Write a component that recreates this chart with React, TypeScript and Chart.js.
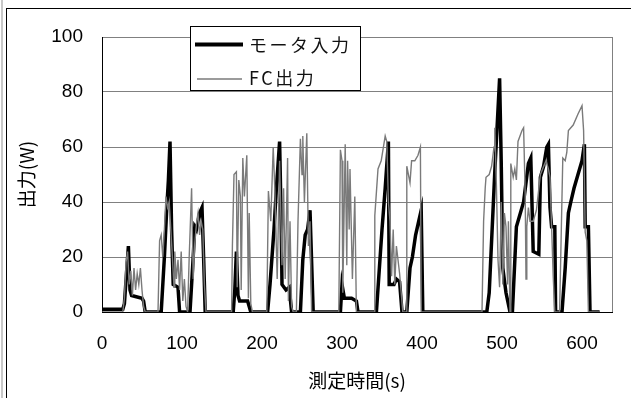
import React, { useEffect, useRef } from "react";
import { Chart, registerables } from "chart.js";

Chart.register(...registerables);

// ---- data ----
const motorTime = [
  0, 26, 28, 33, 35, 37, 50, 52, 54, 74, 78, 81, 83, 85, 87, 89, 95, 97, 110, 114, 116, 118, 122, 125, 127, 129,
  164, 166, 168, 170, 172, 182, 186, 207, 210, 215, 218, 222, 224, 225, 230, 234, 237, 248, 251, 254, 257, 260, 264,
  298, 300, 303, 312, 318, 320, 343, 350, 354, 358, 359, 365, 368, 372, 375, 381, 385, 388, 392, 399, 401,
  481, 484, 491, 497, 499, 501, 505, 510, 513, 518, 527, 533, 536, 537, 539, 546, 548, 552, 556, 558, 560, 562, 566, 567,
  575, 579, 583, 586, 590, 600, 603, 604, 608, 610, 622,
];
const motorPower = [
  1, 1, 3, 24, 8, 6, 5, 4, 0, 0, 20, 38, 48, 62, 30, 10, 9, 0, 0, 20, 31, 30, 36, 38, 20, 0,
  0, 8, 22, 6, 4, 4, 0, 0, 10, 30, 45, 62, 33, 10, 8, 9, 0, 0, 19, 28, 30, 37, 0,
  0, 10, 5, 5, 4, 0, 0, 30, 45, 62, 10, 10, 12, 11, 0, 0, 16, 20, 28, 37, 0,
  0, 7, 51, 85, 55, 16, 7, 0, 0, 31, 40, 54, 56, 45, 22, 21, 49, 53, 60, 61, 38, 31, 31, 0,
  0, 16, 36, 40, 45, 55, 61, 31, 31, 0, 0,
];
const fcTime = [
  0, 26, 28, 30, 32, 34, 36, 38, 40, 42, 44, 46, 48, 50, 52, 54,
  70, 72, 74, 76, 78, 80, 82, 84, 86, 88, 90, 91, 93, 95, 97, 99, 101, 103, 105, 107, 109, 112, 114, 116, 118, 120, 122, 124, 126, 128, 130,
  162, 163, 165, 168, 169, 171, 173, 174, 176, 178, 181, 183, 184, 186, 188,
  206, 208, 211, 214, 216, 219, 222, 225, 227, 229, 232, 233, 235, 237, 239,
  243, 245, 248, 250, 251, 253, 256, 258, 260, 262,
  296, 298, 300, 301, 304, 306, 307, 309, 310, 313, 316, 318,
  340, 341, 345, 349, 354, 356, 358, 360, 362, 364, 366, 368, 372, 376,
  380, 381, 385, 387, 391, 395, 398, 399,
  475, 477, 479, 480, 484, 487, 490, 491, 493, 495, 497, 499, 501, 503, 505, 507, 508, 510,
  511, 514, 516, 518, 520, 525, 527, 529, 530, 531, 533, 535, 539, 543, 548, 555, 558, 560, 562, 564, 566,
  572, 576, 579, 581, 583, 589, 595, 600, 602, 604, 606, 608, 622,
];
const fcPower = [
  0, 0, 5, 18, 22, 10, 15, 6, 16, 8, 14, 10, 16, 8, 2, 0,
  0, 26, 28, 20, 30, 42, 38, 40, 30, 20, 9, 22, 12, 19, 8, 22, 4, 12, 2, 0, 20, 45, 12, 25, 32, 36, 28, 33, 30, 10, 0,
  0, 24, 50, 51, 9, 48, 42, 8, 56, 42, 57, 5, 36, 3, 0,
  0, 44, 33, 60, 45, 12, 55, 17, 45, 12, 56, 4, 33, 2, 0,
  0, 33, 63, 50, 64, 40, 65, 24, 33, 0,
  0, 59, 55, 7, 61, 17, 55, 30, 52, 12, 42, 0,
  0, 35, 52, 55, 64, 62, 40, 33, 13, 30, 10, 24, 14, 0,
  0, 53, 47, 55, 55, 57, 60, 0,
  0, 33, 45, 49, 50, 53, 60, 67, 46, 19, 9, 40, 10, 36, 31, 10, 33, 0,
  54, 49, 52, 48, 62, 66, 67, 43, 12, 31, 38, 33, 33, 37, 50, 55, 52, 49, 31, 13, 0,
  0, 56, 55, 58, 66, 68, 72, 75, 66, 29, 26, 0, 0,
];
const seriesLabels = ["モータ入力", "FC出力"];
const xTitle = "測定時間(s)";
const yTitle = "出力(W)";
const xRange = [0, 637.5];
const yRange = [0, 100];

const FONT = "'Liberation Sans', 'Noto Sans CJK JP', sans-serif";
const JP_FONT = "'Noto Sans CJK JP', 'Liberation Sans', sans-serif";
const MOTOR_COLOR = "#000000";
const FC_COLOR = "#7a7a7a";
const GRID_COLOR = "#808080";

const toPoints = (xs: number[], ys: number[]) => xs.map((x, i) => ({ x, y: ys[i] }));

const framePlugin = {
  id: "frameAndLegend",
  afterDraw(chart: any) {
    const { ctx, chartArea } = chart;
    ctx.save();
    // right border of plot area
    ctx.strokeStyle = GRID_COLOR;
    ctx.lineWidth = 1;
    ctx.beginPath();
    ctx.moveTo(Math.round(chartArea.right) + 0.5, chartArea.top);
    ctx.lineTo(Math.round(chartArea.right) + 0.5, chartArea.bottom);
    ctx.stroke();

    // legend box
    const bx = 190.5, by = 26.5, bw = 170, bh = 64;
    ctx.fillStyle = "#ffffff";
    ctx.fillRect(bx, by, bw, bh);
    ctx.strokeStyle = "#000000";
    ctx.lineWidth = 1;
    ctx.strokeRect(bx, by, bw, bh);

    const items = [
      { label: seriesLabels[0], color: MOTOR_COLOR, width: 4, x0: 195, x1: 243, y: 44.5, ty: 45.5 },
      { label: seriesLabels[1], color: FC_COLOR, width: 1.5, x0: 197, x1: 242, y: 79, ty: 78 },
    ];
    for (const it of items) {
      ctx.strokeStyle = it.color;
      ctx.lineWidth = it.width;
      ctx.beginPath();
      ctx.moveTo(it.x0, it.y);
      ctx.lineTo(it.x1, it.y);
      ctx.stroke();
      ctx.fillStyle = "#111111";
      ctx.font = "18px " + JP_FONT;
      (ctx as any).letterSpacing = "2.5px";
      ctx.textAlign = "left";
      ctx.textBaseline = "middle";
      ctx.fillText(it.label, 249, it.ty);
    }
    ctx.restore();
  },
};

export default function App() {
  const canvasRef = useRef<HTMLCanvasElement | null>(null);

  useEffect(() => {
    if (!canvasRef.current) return;
    const chart = new Chart(canvasRef.current, {
      type: "scatter",
      data: {
        datasets: [
          {
            label: seriesLabels[0],
            data: toPoints(motorTime, motorPower),
            showLine: true,
            borderColor: MOTOR_COLOR,
            borderWidth: 3.5,
            pointRadius: 0,
            tension: 0,
            clip: 0 as any,
            order: 2,
          },
          {
            label: seriesLabels[1],
            data: toPoints(fcTime, fcPower),
            showLine: true,
            borderColor: FC_COLOR,
            borderWidth: 1.4,
            pointRadius: 0,
            tension: 0,
            clip: 0 as any,
            order: 1,
          },
        ],
      },
      options: {
        responsive: false,
        animation: false,
        layout: { padding: { left: 0, right: 19, top: 37, bottom: 0 } },
        plugins: {
          legend: { display: false },
          tooltip: { enabled: false },
        },
        scales: {
          x: {
            type: "linear",
            min: xRange[0],
            max: xRange[1],
            grid: { display: false, drawTicks: false },
            border: { display: true, color: "#000000", width: 1 },
            ticks: {
              stepSize: 100,
              includeBounds: false,
              padding: 20,
              color: "#000000",
              font: { family: FONT, size: 19 },
              maxRotation: 0,
            },
            title: {
              display: true,
              text: xTitle,
              color: "#000000",
              font: { family: JP_FONT, size: 19 },
              padding: { top: 0, bottom: 6 },
            },
            afterFit: (scale: any) => {
              scale.height = 86;
            },
          },
          y: {
            type: "linear",
            min: yRange[0],
            max: yRange[1],
            grid: { color: GRID_COLOR, lineWidth: 1, drawTicks: false },
            border: { display: true, color: "#000000", width: 1 },
            ticks: {
              stepSize: 20,
              padding: 19,
              color: "#000000",
              font: { family: FONT, size: 19 },
            },
            title: {
              display: true,
              text: yTitle,
              color: "#000000",
              font: { family: JP_FONT, size: 19 },
              padding: { top: 15, bottom: 0 },
            },
            afterFit: (scale: any) => {
              scale.width = 102;
            },
          },
        },
      },
      plugins: [framePlugin],
    });
    return () => chart.destroy();
  }, []);

  return (
    <div
      style={{
        position: "fixed",
        left: 0,
        top: 0,
        width: 631,
        height: 398,
        background: "#ffffff",
        overflow: "hidden",
      }}
    >
      <div style={{ position: "absolute", left: 1, top: 0, width: 2, height: 398, background: "#c8c8c8" }} />
      <div
        style={{
          position: "absolute",
          left: 6,
          top: 8,
          width: 700,
          height: 500,
          borderLeft: "1px solid #000",
          borderTop: "1px solid #000",
        }}
      />
      <canvas ref={canvasRef} width={631} height={398} style={{ position: "absolute", left: 0, top: 0 }} />
    </div>
  );
}
